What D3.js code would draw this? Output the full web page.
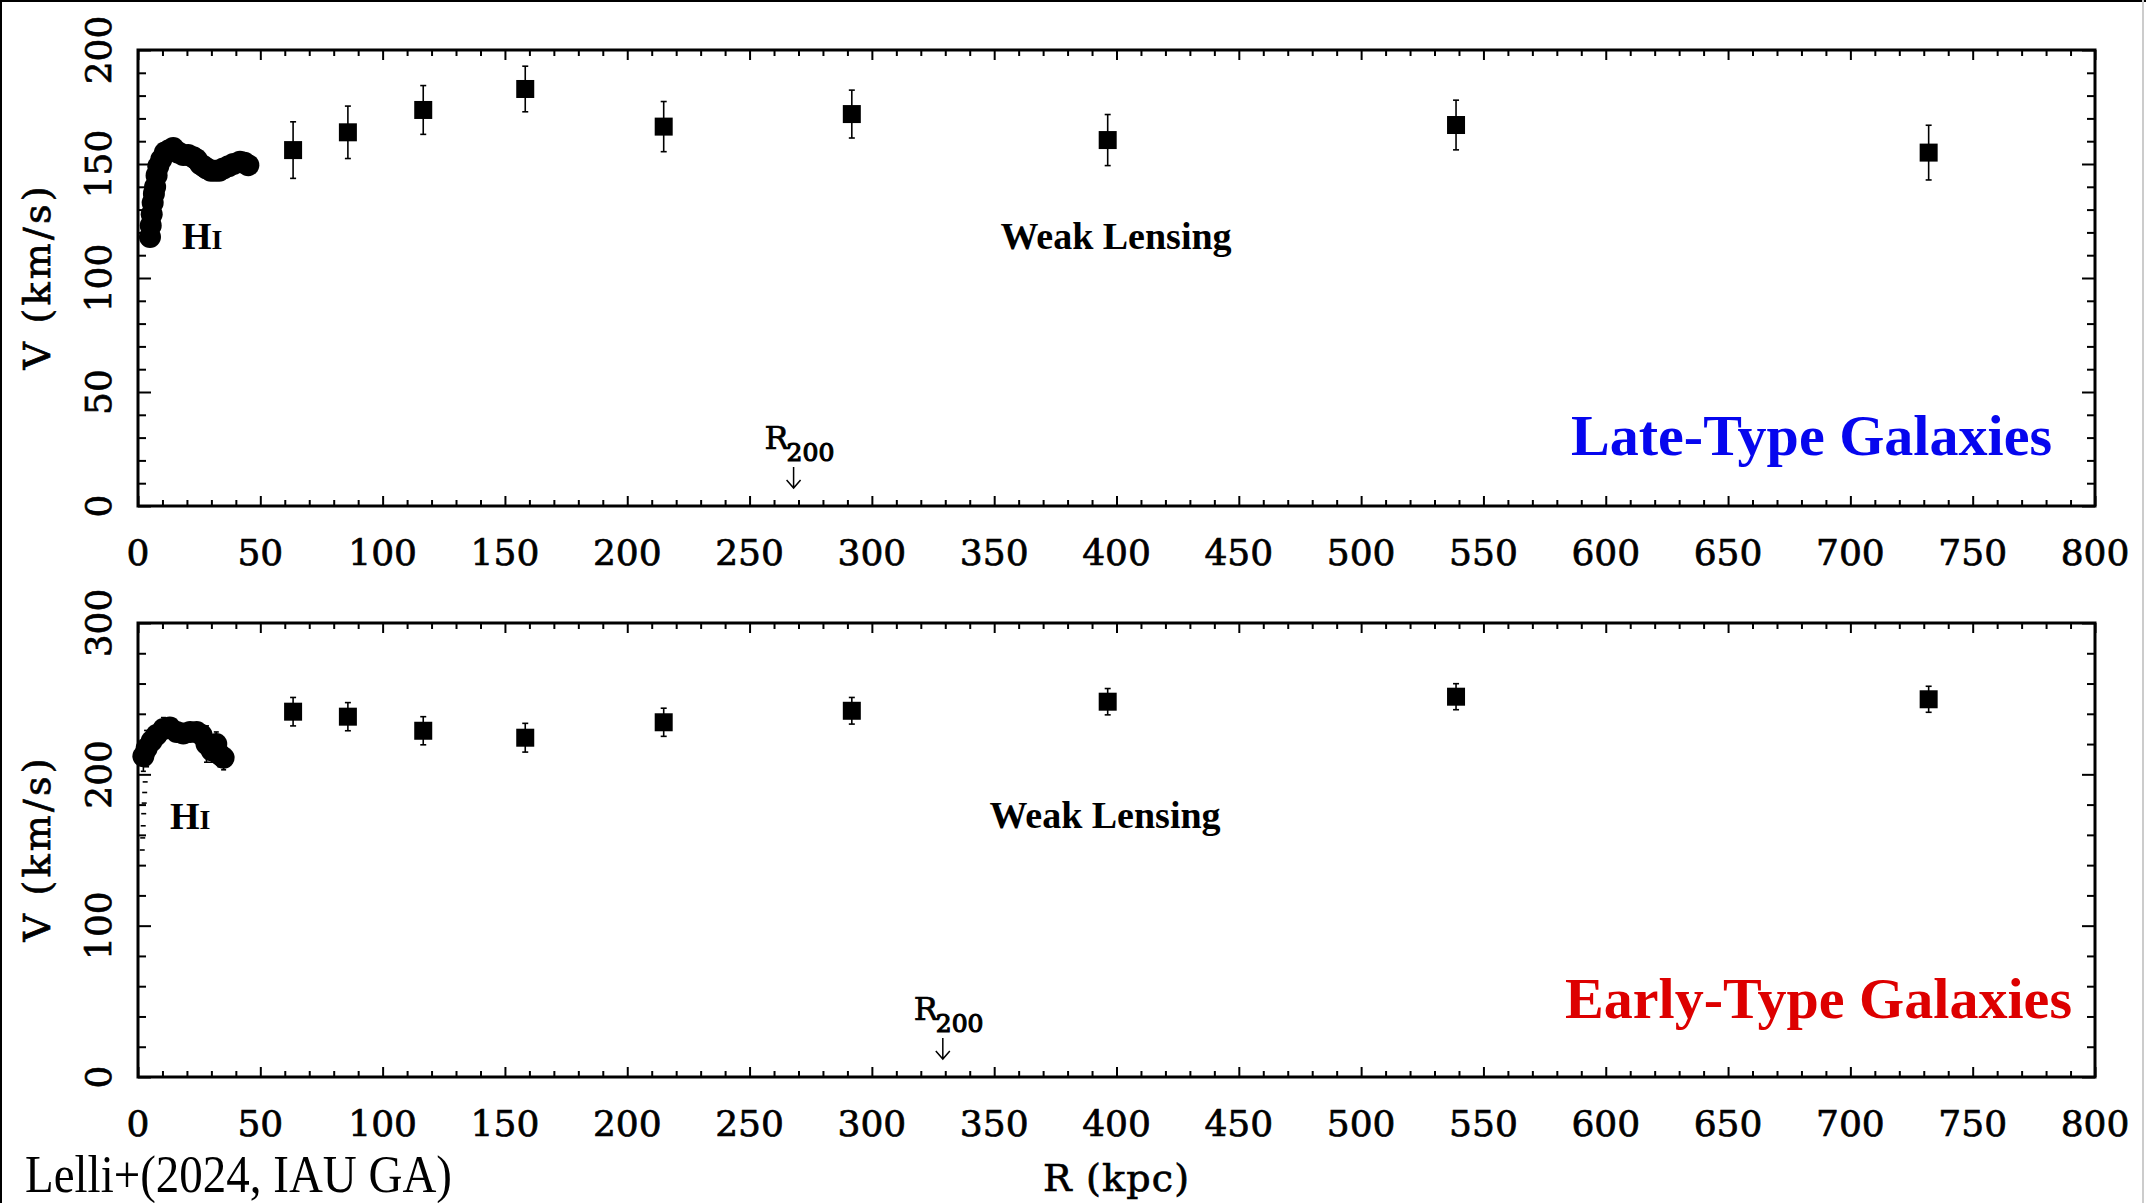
<!DOCTYPE html>
<html>
<head>
<meta charset="utf-8">
<title>Rotation curves: HI + weak lensing</title>
<script src="https://cdn.jsdelivr.net/npm/d3@7"></script>
<style>
  body { margin: 0; background: #fff; }
  svg { display: block; }
  .tick-label, .axis-title, .r200 { font-family: "DejaVu Serif", serif; fill: #000; stroke: #000; stroke-width: 0.7; }
  .tick-label { font-size: 36px; }
  .axis-title { font-size: 38px; }
  .note { font-family: "Liberation Serif", "Times New Roman", serif; font-weight: bold; fill: #000; }
  .axis path.domain { display: none; }
  .axis line { stroke: #000; stroke-width: 2; }
  .err { stroke: #000; stroke-width: 1.6; }
</style>
</head>
<body>
<svg id="vis" width="2146" height="1203"></svg>
<script>
// radial bins of the stacked weak-lensing points (kpc), same in both panels
const lensR = [63.4, 85.8, 116.6, 158.3, 214.9, 291.8, 396.4, 538.8, 732.0];

// late-type galaxies
const lateLensV = [156.1, 163.9, 173.7, 182.9, 166.4, 171.9, 160.5, 167.1, 155.0];
const lateLensErr = [12.4, 11.5, 10.7, 10.0, 11.0, 10.5, 11.2, 10.9, 12.0];
const lateHiR = [4.9, 5.2, 5.6, 6.0, 6.5, 7.0, 7.6, 8.3, 9.5, 11.0, 12.7, 14.4, 16.5, 18.5, 20.5,
  22.6, 24.0, 25.4, 26.8, 28.1, 29.8, 31.5, 33.2, 34.9, 37.0, 39.0, 41.7, 43.5, 45.1];
const lateHiV = [118, 123, 128, 133, 137, 140, 145, 149, 152, 155, 156, 157, 155, 154, 154,
  153, 152, 150, 149, 148, 147, 147, 147, 148, 149, 150, 151, 150.5, 149.5];
const lateR200 = 268;

// early-type galaxies
const earlyLensV = [241.4, 238.1, 228.8, 224.2, 234.4, 242.0, 248.0, 251.3, 249.6];
const earlyLensErr = [9.4, 9.3, 9.3, 9.5, 9.3, 8.8, 8.7, 8.6, 8.6];
const earlyHiR = [2.2, 3.5, 5.6, 7.6, 10.4, 13.0, 15.8, 18.5, 21.3, 24.0, 26.0, 28.0, 30.0, 32.0, 33.5, 35.0];
const earlyHiV = [212, 217, 222, 226, 230, 231, 228, 227, 228, 228, 226, 220, 216, 220, 213, 211];
const earlyHiErr = [10, 12, 8, 7, 7.5, 6, 6, 6, 6, 6, 6, 12, 8, 8, 8, 8];
const earlyInnerR = [0.3, 0.5, 0.7, 0.9, 1.1, 1.3, 1.5];
const earlyInnerV = [150, 158, 166, 174, 181, 188, 195];
const earlyR200 = 329;

// tick labels
const xTickLabels = [0, 50, 100, 150, 200, 250, 300, 350, 400, 450, 500, 550, 600, 650, 700, 750, 800];
const lateYTickLabels = [0, 50, 100, 150, 200];
const earlyYTickLabels = [0, 100, 200, 300];

function drawChart() {
  const svg = d3.select("svg#vis");

  const panels = [
    {
      top: 50, bottom: 506, yMax: 200, yMinor: 10, yLabels: lateYTickLabels,
      lensV: lateLensV, lensErr: lateLensErr,
      hiR: lateHiR, hiV: lateHiV, hiErr: null,
      r200: lateR200,
      hi: [182, 249], lensing: [1116, 249],
      title: "Late-Type Galaxies", color: "#0606ee", titlePos: [1571, 455], titleLen: 481, titleSize: 58
    },
    {
      top: 623, bottom: 1077, yMax: 300, yMinor: 20, yLabels: earlyYTickLabels,
      lensV: earlyLensV, lensErr: earlyLensErr,
      hiR: earlyHiR, hiV: earlyHiV, hiErr: earlyHiErr,
      r200: earlyR200,
      hi: [170, 829], lensing: [1105, 828],
      title: "Early-Type Galaxies", color: "#dd0000", titlePos: [1565, 1018], titleLen: 507, titleSize: 57
    }
  ];

  panels.forEach(drawPanel);

  // inner HI error bars of the early-type stack, hugging the y axis
  const xe = d3.scaleLinear().domain([0, 800]).range([138, 2095]);
  const ye = d3.scaleLinear().domain([0, 300]).range([1077, 623]);
  const inner = svg.append("g").attr("id", "inner");
  earlyInnerR.forEach(function(r, i) {
    inner.append("line").attr("class", "err")
      .attr("x1", xe(r) + 1).attr("x2", xe(r) + 6)
      .attr("y1", ye(earlyInnerV[i])).attr("y2", ye(earlyInnerV[i]));
  });

  // bottom texts
  svg.append("text")
    .attr("class", "axis-title")
    .attr("x", 1116).attr("y", 1191)
    .attr("text-anchor", "middle")
    .attr("textLength", 146)
    .text("R (kpc)");

  svg.append("text")
    .attr("x", 25).attr("y", 1192)
    .attr("textLength", 427)
    .attr("lengthAdjust", "spacingAndGlyphs")
    .style("font-family", "'Liberation Serif', serif")
    .style("font-size", "52px")
    .text("Lelli+(2024, IAU GA)");

  // frame of the whole picture
  svg.append("line").attr("x1", 1).attr("x2", 1).attr("y1", 0).attr("y2", 1203)
    .attr("stroke", "#000").attr("stroke-width", 2);
  svg.append("line").attr("x1", 0).attr("x2", 2146).attr("y1", 1).attr("y2", 1)
    .attr("stroke", "#000").attr("stroke-width", 2);
  svg.append("line").attr("x1", 2143).attr("x2", 2143).attr("y1", 0).attr("y2", 1203)
    .attr("stroke", "#ccc").attr("stroke-width", 2);

  function drawPanel(p) {
    const x = d3.scaleLinear().domain([0, 800]).range([138, 2095]);
    const y = d3.scaleLinear().domain([0, p.yMax]).range([p.bottom, p.top]);
    const g = svg.append("g").attr("class", "panel");

    // ticks on all four sides, pointing inward
    const xMinor = d3.range(0, 801, 10).filter(v => v % 50 !== 0);
    const yMinor = d3.range(0, p.yMax + 1, p.yMinor).filter(v => p.yLabels.indexOf(v) < 0);

    g.append("g").attr("class", "axis").attr("transform", translate(0, p.bottom))
      .call(d3.axisBottom(x).tickValues(xMinor).tickSize(-6).tickFormat(""));
    g.append("g").attr("class", "axis").attr("transform", translate(0, p.bottom))
      .call(d3.axisBottom(x).tickValues(xTickLabels).tickSize(-10).tickFormat(""));
    g.append("g").attr("class", "axis").attr("transform", translate(0, p.top))
      .call(d3.axisTop(x).tickValues(xMinor).tickSize(-6).tickFormat(""));
    g.append("g").attr("class", "axis").attr("transform", translate(0, p.top))
      .call(d3.axisTop(x).tickValues(xTickLabels).tickSize(-10).tickFormat(""));

    g.append("g").attr("class", "axis").attr("transform", translate(138, 0))
      .call(d3.axisLeft(y).tickValues(yMinor).tickSize(-8).tickFormat(""));
    g.append("g").attr("class", "axis").attr("transform", translate(138, 0))
      .call(d3.axisLeft(y).tickValues(p.yLabels).tickSize(-13).tickFormat(""));
    g.append("g").attr("class", "axis").attr("transform", translate(2095, 0))
      .call(d3.axisRight(y).tickValues(yMinor).tickSize(-8).tickFormat(""));
    g.append("g").attr("class", "axis").attr("transform", translate(2095, 0))
      .call(d3.axisRight(y).tickValues(p.yLabels).tickSize(-13).tickFormat(""));

    g.append("rect")
      .attr("x", 138).attr("y", p.top)
      .attr("width", 2095 - 138).attr("height", p.bottom - p.top)
      .attr("fill", "none").attr("stroke", "#000").attr("stroke-width", 3);

    // tick labels
    g.selectAll("text.xlab")
      .data(xTickLabels)
      .enter().append("text")
      .attr("class", "tick-label xlab")
      .attr("x", d => x(d))
      .attr("y", p.bottom + 59)
      .attr("text-anchor", "middle")
      .text(d => d);

    g.selectAll("text.ylab")
      .data(p.yLabels)
      .enter().append("text")
      .attr("class", "tick-label ylab")
      .attr("transform", d => translate(111, y(d)) + " rotate(-90)")
      .attr("text-anchor", "middle")
      .text(d => d);

    g.append("text")
      .attr("class", "axis-title")
      .attr("transform", translate(50, (p.top + p.bottom) / 2) + " rotate(-90)")
      .attr("text-anchor", "middle")
      .attr("textLength", 183)
      .text("V (km/s)");

    // HI rotation curve
    const hi = p.hiR.map((r, i) => ({ r: r, v: p.hiV[i], e: p.hiErr ? p.hiErr[i] : 0 }));
    if (p.hiErr) {
      drawErrors(g, hi, x, y, 5);
    }
    g.selectAll("circle.hi")
      .data(hi)
      .enter().append("circle")
      .attr("class", "hi")
      .attr("cx", d => x(d.r))
      .attr("cy", d => y(d.v))
      .attr("r", 11)
      .attr("fill", "#000");

    // weak lensing
    const lens = lensR.map((r, i) => ({ r: r, v: p.lensV[i], e: p.lensErr[i] }));
    drawErrors(g, lens, x, y, 6);
    g.selectAll("rect.lens")
      .data(lens)
      .enter().append("rect")
      .attr("class", "lens")
      .attr("x", d => x(d.r) - 9)
      .attr("y", d => y(d.v) - 9)
      .attr("width", 18)
      .attr("height", 18)
      .attr("fill", "#000");

    // labels
    const hiText = g.append("text").attr("class", "note")
      .attr("x", p.hi[0]).attr("y", p.hi[1])
      .style("font-size", "38px");
    hiText.append("tspan").text("H");
    hiText.append("tspan").style("font-size", "28px").text("I");

    g.append("text").attr("class", "note")
      .attr("x", p.lensing[0]).attr("y", p.lensing[1])
      .attr("text-anchor", "middle")
      .style("font-size", "38px")
      .text("Weak Lensing");

    g.append("text").attr("class", "note")
      .attr("x", p.titlePos[0]).attr("y", p.titlePos[1])
      .attr("textLength", p.titleLen)
      .attr("lengthAdjust", "spacingAndGlyphs")
      .style("font-size", p.titleSize + "px")
      .style("fill", p.color)
      .text(p.title);

    // R200 marker
    const ax = x(p.r200);
    g.append("text").attr("class", "r200")
      .attr("x", ax - 29).attr("y", p.bottom - 57)
      .style("font-size", "32px")
      .text("R");
    g.append("text").attr("class", "r200")
      .attr("x", ax - 7).attr("y", p.bottom - 45)
      .style("font-size", "25px")
      .style("stroke-width", 1.2)
      .text("200");
    g.append("path")
      .attr("d", "M" + ax + "," + (p.bottom - 39) + "V" + (p.bottom - 18) +
        "M" + (ax - 7) + "," + (p.bottom - 26) + "L" + ax + "," + (p.bottom - 18) +
        "L" + (ax + 7) + "," + (p.bottom - 26))
      .attr("fill", "none")
      .attr("stroke", "#000")
      .attr("stroke-width", 1.5);
  }

  function drawErrors(g, data, x, y, cap) {
    const eg = g.append("g").attr("class", "errors");
    data.forEach(function(d) {
      const cx = x(d.r);
      eg.append("line").attr("class", "err")
        .attr("x1", cx).attr("x2", cx)
        .attr("y1", y(d.v - d.e)).attr("y2", y(d.v + d.e));
      [d.v - d.e, d.v + d.e].forEach(function(v) {
        eg.append("line").attr("class", "err")
          .attr("x1", cx - cap / 2).attr("x2", cx + cap / 2)
          .attr("y1", y(v)).attr("y2", y(v));
      });
    });
  }

  function translate(x, y) {
    return "translate(" + String(x) + "," + String(y) + ")";
  }
}

drawChart();
</script>
</body>
</html>
